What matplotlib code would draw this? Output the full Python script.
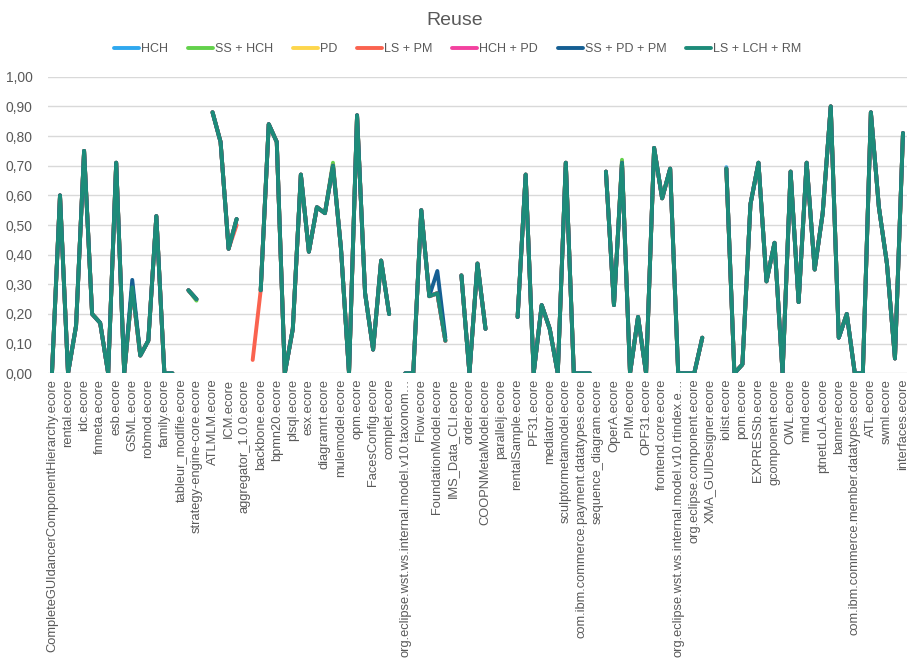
import numpy as np
import matplotlib.pyplot as plt

# ecore metamodels, in order along the x axis (only every other one is labelled)
labels = [
    "CompleteGUIdancerComponentHierarchy.ecore", "rental.ecore", "idc.ecore",
    "fnmeta.ecore", "esb.ecore", "GSML.ecore", "robmod.ecore", "family.ecore",
    "tableur_modifie.ecore", "strategy-engine-core.ecore", "ATLMLM.ecore",
    "ICM.ecore", "aggregator_1.0.0.ecore", "backbone.ecore", "bpmn20.ecore",
    "plsql.ecore", "esx.ecore", "diagramrt.ecore", "mulemodel.ecore",
    "opm.ecore", "FacesConfig.ecore", "complet.ecore",
    "org.eclipse.wst.ws.internal.model.v10.taxonom\u2026", "Flow.ecore",
    "FoundationModel.ecore", "IMS_Data_CLI.ecore", "order.ecore",
    "COOPNMetaModel.ecore", "parallelj.ecore", "rentalSample.ecore",
    "PF31.ecore", "mediator.ecore", "sculptormetamodel.ecore",
    "com.ibm.commerce.payment.datatypes.ecore", "sequence_diagram.ecore",
    "OperA.ecore", "PIM.ecore", "OPF31.ecore", "frontend.core.ecore",
    "org.eclipse.wst.ws.internal.model.v10.rtindex.e\u2026",
    "org.eclipse.component.ecore", "XMA_GUIDesigner.ecore", "iolist.ecore",
    "pom.ecore", "EXPRESSb.ecore", "gcomponent.ecore", "OWL.ecore",
    "mind.ecore", "ptnetLoLA.ecore", "banner.ecore",
    "com.ibm.commerce.member.datatypes.ecore", "ATL.ecore", "swml.ecore",
    "interfaces.ecore",
]

# reuse score per metamodel for LS + LCH + RM (None = no value)
ls_lch_rm = [
    0.00, 0.60, 0.00, 0.16, 0.75, 0.20, 0.17, 0.00, 0.71, 0.00,
    0.29, 0.06, 0.11, 0.53, 0.00, 0.00, None, 0.28, 0.25, None,
    0.88, 0.78, 0.42, 0.52, None, None, 0.28, 0.84, 0.78, 0.00,
    0.15, 0.67, 0.41, 0.56, 0.54, 0.70, 0.42, 0.00, 0.87, 0.27,
    0.08, 0.38, 0.20, None, 0.00, 0.00, 0.55, 0.26, 0.27, 0.11,
    None, 0.33, 0.00, 0.37, 0.15, None, None, None, 0.19, 0.67,
    0.00, 0.23, 0.15, 0.00, 0.71, 0.00, 0.00, 0.00, None, 0.68,
    0.23, 0.71, 0.00, 0.19, 0.00, 0.76, 0.59, 0.69, 0.00, 0.00,
    0.00, 0.12, None, None, 0.69, 0.00, 0.03, 0.57, 0.71, 0.31,
    0.44, 0.00, 0.68, 0.24, 0.71, 0.35, 0.54, 0.90, 0.12, 0.20,
    0.00, 0.00, 0.88, 0.56, 0.37, 0.05, 0.81,
]

# the other strategies coincide with LS + LCH + RM except at these points
hch_diff = {84: 0.695}
ss_hch_diff = {35: 0.71, 71: 0.72, 18: 0.245}
pd_diff = {98: 0.125}
ls_pm_diff = {23: 0.50, 25: 0.045, 26: 0.28}
hch_pd_diff = {58: 0.19}
ss_pd_pm_diff = {10: 0.315, 48: 0.345, 49: 0.12}

series = [
    ("HCH", hch_diff, "#2fa8ef"),
    ("SS + HCH", ss_hch_diff, "#63d14b"),
    ("PD", pd_diff, "#fdd64c"),
    ("LS + PM", ls_pm_diff, "#fa634f"),
    ("HCH + PD", hch_pd_diff, "#f3419f"),
    ("SS + PD + PM", ss_pd_pm_diff, "#155f93"),
    ("LS + LCH + RM", {}, "#1d8b79"),
]

base = np.array([np.nan if v is None else v for v in ls_lch_rm], dtype=float)
x = np.arange(len(base))

plt.rcParams['font.family'] = ['Liberation Sans', 'DejaVu Sans']
fig = plt.figure(figsize=(9.1, 6.62), dpi=100)
ax = fig.add_axes([0.0527, 0.4361, 0.944, 0.448])

for name, diff, color in series:
    y = base.copy()
    for k, v in diff.items():
        y[k] = v
    ax.plot(x, y, color=color, lw=2.8, label=name, solid_capstyle='round',
            solid_joinstyle='round')

ax.set_xlim(-0.5, len(base) - 0.5)
ax.set_ylim(0, 1.0)
ax.set_yticks(np.arange(0, 1.01, 0.1))
ax.set_yticklabels([("%.2f" % v).replace(".", ",") for v in np.arange(0, 1.01, 0.1)],
                   fontsize=10, color="#595959")
ax.set_xticks(x[::2])
ax.set_xticklabels(labels, rotation=90, fontsize=9.3, color="#595959")
ax.tick_params(length=0, pad=4)
ax.tick_params(axis='y', pad=11)
ax.grid(axis='y', color="#d9d9d9", lw=1)
ax.set_axisbelow(True)
for s in ax.spines.values():
    s.set_visible(False)

fig.suptitle("Reuse", y=0.982, fontsize=14, color="#595959")
fig.legend(loc='center', bbox_to_anchor=(0.503, 0.926), ncol=7, frameon=False,
           fontsize=9, handlelength=2.0, handletextpad=0.15, columnspacing=1.6,
           labelcolor="#595959")

fig.savefig("out.png", dpi=100)
